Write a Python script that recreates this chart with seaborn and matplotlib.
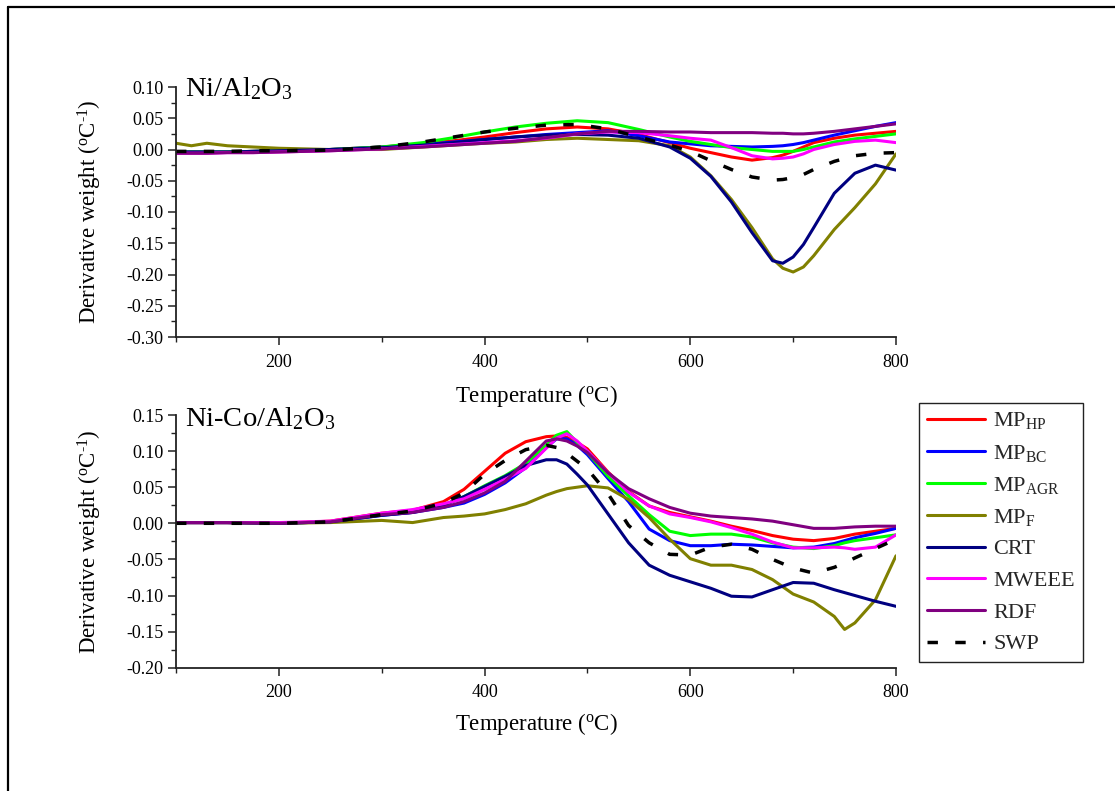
import matplotlib
matplotlib.use("Agg")
import matplotlib.pyplot as plt
import seaborn as sns
import pandas as pd
from matplotlib.lines import Line2D
from matplotlib.ticker import MultipleLocator, FormatStrFormatter

# ---- DTG data: Ni/Al2O3 (top panel) ----
temp_top = [100, 115, 130, 150, 175, 200, 250, 300, 340, 370, 400, 430, 460, 490,
            520, 550, 580, 600, 620, 640, 660, 680, 690, 700, 710, 720, 740, 760, 780, 800]
ni_hp = [-0.004, -0.004, -0.004, -0.004, -0.003, -0.002, 0.000, 0.004, 0.009, 0.014, 0.020, 0.027, 0.033, 0.036,
         0.033, 0.024, 0.011, 0.002, -0.005, -0.012, -0.017, -0.013, -0.009, -0.003, 0.004, 0.011, 0.018, 0.023, 0.026, 0.029]
ni_bc = [-0.004, -0.004, -0.004, -0.004, -0.003, -0.002, 0.000, 0.004, 0.008, 0.012, 0.016, 0.020, 0.024, 0.027,
         0.030, 0.022, 0.012, 0.009, 0.006, 0.005, 0.004, 0.005, 0.006, 0.008, 0.011, 0.015, 0.023, 0.030, 0.037, 0.043]
ni_agr = [-0.004, -0.004, -0.004, -0.004, -0.003, -0.002, 0.000, 0.004, 0.011, 0.019, 0.028, 0.036, 0.042, 0.046,
          0.043, 0.032, 0.020, 0.013, 0.008, 0.003, 0.000, -0.003, -0.003, -0.003, 0.000, 0.004, 0.012, 0.017, 0.021, 0.025]
ni_f = [0.010, 0.006, 0.010, 0.006, 0.004, 0.002, 0.000, 0.000, 0.004, 0.007, 0.010, 0.012, 0.016, 0.018,
        0.016, 0.014, 0.006, -0.012, -0.042, -0.080, -0.125, -0.175, -0.190, -0.196, -0.188, -0.170, -0.128, -0.093, -0.055, -0.007]
ni_crt = [-0.004, -0.004, -0.004, -0.004, -0.003, -0.002, 0.000, 0.003, 0.007, 0.011, 0.016, 0.020, 0.023, 0.024,
          0.023, 0.018, 0.004, -0.014, -0.043, -0.084, -0.133, -0.178, -0.182, -0.172, -0.152, -0.125, -0.070, -0.038, -0.025, -0.033]
ni_mweee = [-0.006, -0.006, -0.006, -0.005, -0.005, -0.004, -0.002, 0.001, 0.005, 0.008, 0.011, 0.014, 0.018, 0.025,
            0.028, 0.027, 0.022, 0.018, 0.015, 0.003, -0.010, -0.015, -0.014, -0.012, -0.007, 0.000, 0.008, 0.013, 0.015, 0.011]
ni_rdf = [-0.006, -0.006, -0.006, -0.005, -0.005, -0.004, -0.002, 0.001, 0.004, 0.007, 0.010, 0.013, 0.019, 0.025,
          0.029, 0.029, 0.028, 0.028, 0.027, 0.027, 0.027, 0.026, 0.026, 0.025, 0.025, 0.026, 0.029, 0.033, 0.037, 0.041]
ni_swp = [-0.003, -0.003, -0.003, -0.003, -0.002, -0.002, -0.001, 0.004, 0.012, 0.020, 0.028, 0.034, 0.039, 0.040,
          0.033, 0.020, 0.007, -0.003, -0.018, -0.032, -0.044, -0.049, -0.048, -0.045, -0.040, -0.032, -0.019, -0.010, -0.006, -0.005]

# ---- DTG data: Ni-Co/Al2O3 (bottom panel) ----
temp_bot = [100, 150, 200, 250, 300, 330, 360, 380, 400, 420, 440, 460, 470, 480, 490, 500,
            520, 540, 560, 580, 600, 620, 640, 660, 680, 700, 720, 740, 750, 760, 780, 800]
co_hp = [0.001, 0.001, 0.000, 0.003, 0.014, 0.018, 0.030, 0.047, 0.072, 0.097, 0.113, 0.120, 0.121, 0.119, 0.112, 0.103,
         0.071, 0.044, 0.024, 0.015, 0.009, 0.003, -0.004, -0.010, -0.017, -0.022, -0.024, -0.021, -0.018, -0.015, -0.011, -0.007]
co_bc = [0.001, 0.001, 0.000, 0.002, 0.011, 0.015, 0.022, 0.028, 0.040, 0.056, 0.077, 0.105, 0.117, 0.117, 0.108, 0.095,
         0.062, 0.030, -0.008, -0.024, -0.031, -0.031, -0.029, -0.030, -0.032, -0.034, -0.033, -0.028, -0.024, -0.020, -0.014, -0.007]
co_agr = [0.001, 0.001, 0.000, 0.002, 0.012, 0.016, 0.025, 0.037, 0.052, 0.066, 0.083, 0.108, 0.122, 0.127, 0.112, 0.098,
          0.065, 0.038, 0.012, -0.011, -0.017, -0.015, -0.015, -0.019, -0.027, -0.033, -0.035, -0.031, -0.027, -0.024, -0.020, -0.016]
co_f = [0.001, 0.001, 0.000, 0.001, 0.004, 0.001, 0.008, 0.010, 0.013, 0.019, 0.027, 0.039, 0.044, 0.048, 0.050, 0.052,
        0.049, 0.033, 0.008, -0.022, -0.049, -0.058, -0.058, -0.064, -0.078, -0.098, -0.109, -0.129, -0.147, -0.138, -0.106, -0.045]
co_crt = [0.001, 0.001, 0.000, 0.002, 0.011, 0.015, 0.025, 0.037, 0.051, 0.065, 0.080, 0.088, 0.088, 0.082, 0.068, 0.053,
          0.013, -0.027, -0.058, -0.072, -0.081, -0.090, -0.101, -0.102, -0.092, -0.082, -0.083, -0.092, -0.096, -0.100, -0.108, -0.115]
co_mweee = [0.001, 0.001, 0.001, 0.003, 0.014, 0.019, 0.027, 0.034, 0.047, 0.061, 0.076, 0.104, 0.118, 0.124, 0.114, 0.100,
            0.070, 0.043, 0.024, 0.013, 0.008, 0.002, -0.006, -0.015, -0.026, -0.034, -0.034, -0.033, -0.034, -0.036, -0.033, -0.016]
co_rdf = [0.001, 0.001, 0.000, 0.002, 0.012, 0.015, 0.022, 0.030, 0.042, 0.058, 0.086, 0.114, 0.117, 0.114, 0.107, 0.098,
          0.070, 0.048, 0.034, 0.022, 0.014, 0.010, 0.008, 0.006, 0.003, -0.002, -0.007, -0.007, -0.006, -0.005, -0.004, -0.004]
co_swp = [0.000, 0.000, 0.000, 0.002, 0.012, 0.017, 0.028, 0.042, 0.068, 0.087, 0.102, 0.108, 0.105, 0.097, 0.086, 0.075,
          0.041, -0.003, -0.027, -0.043, -0.044, -0.033, -0.029, -0.036, -0.050, -0.062, -0.069, -0.061, -0.055, -0.048, -0.035, -0.022]

series_labels = [r"MP$_{\mathrm{HP}}$", r"MP$_{\mathrm{BC}}$", r"MP$_{\mathrm{AGR}}$", r"MP$_{\mathrm{F}}$",
                 "CRT", "MWEEE", "RDF", "SWP"]
series_colors = ["#FF0000", "#0000FF", "#00FF00", "#808000", "#000080", "#FF00FF", "#800080", "#000000"]
top_series = [ni_hp, ni_bc, ni_agr, ni_f, ni_crt, ni_mweee, ni_rdf, ni_swp]
bot_series = [co_hp, co_bc, co_agr, co_f, co_crt, co_mweee, co_rdf, co_swp]

sns.set_theme(style="ticks")
plt.rcParams["font.family"] = ["Liberation Serif", "DejaVu Serif"]
plt.rcParams["mathtext.fontset"] = "custom"
plt.rcParams["mathtext.rm"] = "Liberation Serif"
plt.rcParams["mathtext.it"] = "Liberation Serif:italic"
plt.rcParams["mathtext.bf"] = "Liberation Serif:bold"
plt.rcParams["axes.unicode_minus"] = False

W, H = 1115, 791
fig = plt.figure(figsize=(W / 100, H / 100), dpi=100)
fig.patch.set_facecolor("white")

ax_top = fig.add_axes([176 / W, 1 - 337 / H, 720 / W, 250 / H])
ax_bot = fig.add_axes([176 / W, 1 - 667.7 / H, 720 / W, 252.7 / H])

LW = 2.2
DASH = (0, (3, 5))
XLABEL = "Temperature ($^{\\mathrm{o}}$C)"
YLABEL = "Derivative weight ($^{\\mathrm{o}}$C$^{\\mathrm{\u20101}}$)"


def draw_panel(ax, temps, series, ylim, title, title_y, xlab_y):
    for vals, lab, col in zip(series, series_labels, series_colors):
        df = pd.DataFrame({"T": temps, "dtg": vals})
        style = DASH if lab == "SWP" else "-"
        lw = 2.5 if lab == "SWP" else LW
        sns.lineplot(data=df, x="T", y="dtg", ax=ax, color=col, linewidth=lw,
                     linestyle=style, legend=False, estimator=None, sort=False)
    ax.set_xlim(100, 800)
    ax.set_ylim(*ylim)
    ax.xaxis.set_major_locator(MultipleLocator(200))
    ax.xaxis.set_minor_locator(MultipleLocator(100))
    ax.yaxis.set_major_locator(MultipleLocator(0.05))
    ax.yaxis.set_minor_locator(MultipleLocator(0.025))
    ax.yaxis.set_major_formatter(FormatStrFormatter("%.2f"))
    for side in ("top", "right"):
        ax.spines[side].set_visible(False)
    for side in ("left", "bottom"):
        ax.spines[side].set_color("#222222")
        ax.spines[side].set_linewidth(1.3)
    ax.tick_params(which="major", direction="out", length=6, width=1.1, color="#222222",
                   labelsize=13, labelcolor="black")
    ax.tick_params(axis="x", which="major", pad=6)
    ax.tick_params(axis="y", which="major", pad=3)
    ax.tick_params(which="minor", direction="out", length=3.5, width=1.0, color="#222222")
    ax.set_xlabel(XLABEL, fontsize=16.5, color="black")
    ax.set_ylabel(YLABEL, fontsize=16.5, color="black")
    ax.xaxis.set_label_coords(0.5, xlab_y)
    ax.yaxis.set_label_coords(-0.1, 0.5)
    ax.text(0.0125, title_y, title, transform=ax.transAxes, fontsize=20.5,
            ha="left", va="baseline", color="black")
    ax.set_facecolor("white")


draw_panel(ax_top, temp_top, top_series, (-0.30, 0.10),
           r"Ni/Al$_{\mathrm{2}}$O$_{\mathrm{3}}$", 0.964, -0.185)
draw_panel(ax_bot, temp_bot, bot_series, (-0.20, 0.15),
           r"Ni-Co/Al$_{\mathrm{2}}$O$_{\mathrm{3}}$", 0.9565, -0.17)

handles = [Line2D([], [], color=c, linewidth=(2.5 if l == "SWP" else LW),
                  linestyle=(DASH if l == "SWP" else "-"))
           for l, c in zip(series_labels, series_colors)]
leg = fig.legend(handles, series_labels, loc="upper left",
                 bbox_to_anchor=(919 / W, 1 - 402.7 / H), bbox_transform=fig.transFigure,
                 frameon=True, fancybox=False, edgecolor="#222222", framealpha=1,
                 fontsize=16, handlelength=2.6, handletextpad=0.4,
                 labelspacing=0.5, borderpad=0.35, borderaxespad=0)
leg.get_frame().set_linewidth(1.0)

# outer frame around the figure
fig.add_artist(Line2D([8 / W, 1.02], [1 - 7 / H, 1 - 7 / H], transform=fig.transFigure,
                      color="black", linewidth=1.6))
fig.add_artist(Line2D([8 / W, 8 / W], [-0.02, 1 - 7 / H], transform=fig.transFigure,
                      color="black", linewidth=1.6))

fig.savefig("out.png", dpi=100, facecolor="white")
